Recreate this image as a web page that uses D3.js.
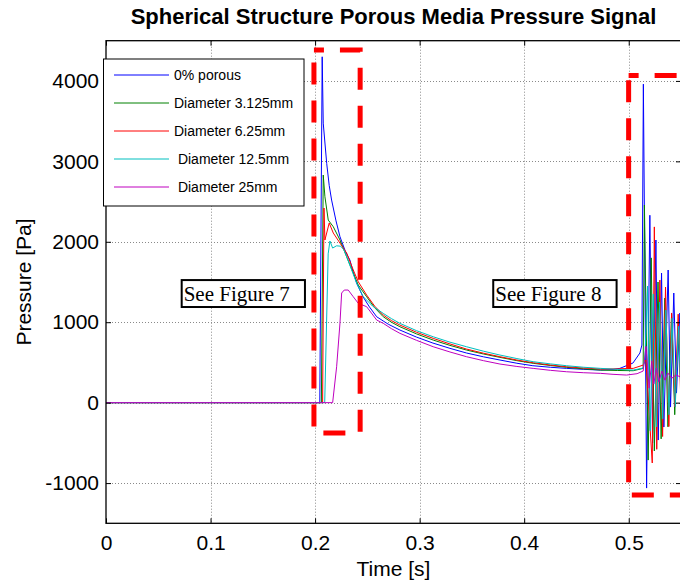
<!DOCTYPE html>
<html>
<head>
<meta charset="utf-8">
<script src="https://cdn.jsdelivr.net/npm/d3@7"></script>
<style>
  body { margin: 0; background: #fff; }
  text { font-family: "Liberation Sans", Arial, sans-serif; }
</style>
</head>
<body>
<script>
// pressure signals, [time s, pressure Pa]
const porous0 = [[0,0],[0.2045,0],[0.2068,4300],[0.2078,3475],[0.2111,2975],[0.2135,2700],[0.2158,2519],[0.2200,2260],[0.2238,2063],[0.2290,1880],[0.2333,1773],[0.2365,1620],[0.2397,1487],[0.2458,1317],[0.2520,1190],[0.2589,1068],[0.2700,975],[0.2811,903],[0.2970,815],[0.3127,741],[0.3290,675],[0.3449,617],[0.3610,570],[0.3768,530],[0.3930,490],[0.4083,459],[0.4250,440],[0.4406,426],[0.4570,414],[0.4732,405],[0.4850,412],[0.4915,426],[0.5040,492],[0.5107,617],[0.5126,716],[0.5140,3960],[0.5171,-1062],[0.5202,2330],[0.5228,-502],[0.5260,2022],[0.5282,-465],[0.5314,1611],[0.5336,-303],[0.5377,1649],[0.5400,-55],[0.5431,1363],[0.5457,119],[0.5489,1114],[0.5500,900]]
const dia3125 = [[0,0],[0.2060,0],[0.2078,2830],[0.2094,2560],[0.2126,2270],[0.2174,2187],[0.2238,2022],[0.2302,1814],[0.2365,1611],[0.2413,1462],[0.2493,1317],[0.2570,1180],[0.2652,1068],[0.2730,1000],[0.2811,944],[0.2970,855],[0.3130,778],[0.3290,712],[0.3449,654],[0.3610,605],[0.3768,563],[0.3930,522],[0.4086,489],[0.4250,462],[0.4406,439],[0.4570,420],[0.4732,405],[0.4890,400],[0.5043,397],[0.5138,426],[0.5150,2457],[0.5186,-714],[0.5215,1800],[0.5245,-600],[0.5280,1500],[0.5310,-450],[0.5345,1300],[0.5375,-300],[0.5410,1100],[0.5440,-150],[0.5475,1000],[0.5500,100]]
const dia625 = [[0,0],[0.2072,0],[0.2085,2420],[0.2094,2022],[0.2135,2233],[0.2174,2109],[0.2238,1984],[0.2302,1860],[0.2365,1649],[0.2413,1503],[0.2493,1338],[0.2570,1200],[0.2652,1089],[0.2730,1020],[0.2811,965],[0.2970,875],[0.3130,799],[0.3290,730],[0.3449,666],[0.3610,615],[0.3768,571],[0.3930,530],[0.4086,496],[0.4250,468],[0.4406,446],[0.4570,430],[0.4732,418],[0.4890,420],[0.5043,426],[0.5138,467],[0.5164,530],[0.5225,-750],[0.5245,2185],[0.5268,-580],[0.5298,1524],[0.5324,-421],[0.5352,1437],[0.5384,-297],[0.5410,1115],[0.5441,-50],[0.5473,1100],[0.5500,-50]]
const dia125 = [[0,0],[0.2092,0],[0.2125,1850],[0.2142,2010],[0.2168,1922],[0.2205,1950],[0.2245,1945],[0.2275,1900],[0.2302,1814],[0.2350,1649],[0.2397,1487],[0.2461,1317],[0.2550,1200],[0.2652,1110],[0.2730,1045],[0.2811,986],[0.2970,895],[0.3130,819],[0.3290,752],[0.3449,695],[0.3610,640],[0.3768,592],[0.3930,548],[0.4086,509],[0.4250,482],[0.4406,459],[0.4570,440],[0.4732,426],[0.4890,414],[0.5043,405],[0.5138,430],[0.5155,550],[0.5180,1450],[0.5205,-350],[0.5235,1350],[0.5265,-300],[0.5295,1250],[0.5325,-200],[0.5355,1150],[0.5385,-150],[0.5415,1050],[0.5445,-50],[0.5475,950],[0.5500,100]]
const dia25 = [[0,0],[0.2168,0],[0.2206,446],[0.2238,990],[0.2254,1363],[0.2279,1400],[0.2317,1400],[0.2365,1317],[0.2413,1235],[0.2493,1193],[0.2589,1027],[0.2652,986],[0.2730,920],[0.2811,862],[0.2970,775],[0.3130,695],[0.3290,630],[0.3449,571],[0.3610,522],[0.3768,480],[0.3930,450],[0.4086,426],[0.4250,402],[0.4406,384],[0.4570,372],[0.4732,364],[0.4850,352],[0.4979,343],[0.5080,360],[0.5138,393],[0.5165,700],[0.5195,180],[0.5220,520],[0.5240,231],[0.5264,430],[0.5288,256],[0.5317,393],[0.5346,280],[0.5374,368],[0.5413,305],[0.5451,343],[0.5500,318]]

const seriesData = [porous0, dia3125, dia625, dia125, dia25]
const seriesNames = ['0% porous', 'Diameter 3.125mm', 'Diameter 6.25mm', ' Diameter 12.5mm', ' Diameter 25mm']
const seriesColors = ['#0000ff', '#008000', '#ff0000', '#00bfbf', '#bf00bf']

const xTicks = [0, 0.1, 0.2, 0.3, 0.4, 0.5]
const yTicks = [-1000, 0, 1000, 2000, 3000, 4000]

// annotations in data units: [t0, t1, p0, p1]
const zoomBoxes = [[0.1989, 0.2431, -378, 4384], [0.4999, 0.5600, -1149, 4067]]
const noteLabels = ['See Figure 7', 'See Figure 8']
const noteBoxes = [[0.0724, 0.1903, 1189, 1524], [0.3704, 0.4884, 1189, 1524]]

const width = 680
const height = 581
const margin = {top: 40.7, bottom: 57.7, left: 106, right: -1}

const svg = d3.select('body').append('svg')
  .attr('width', width)
  .attr('height', height)

const xScale = d3.scaleLinear()
  .domain([0, 0.55])
  .range([margin.left, width - margin.right])

const yScale = d3.scaleLinear()
  .domain([-1500, 4500])
  .range([height - margin.bottom, margin.top])

const x0 = xScale.range()[0], x1 = xScale.range()[1]
const y0 = yScale.range()[1], y1 = yScale.range()[0]

// grid
const grid = svg.append('g')
  .attr('stroke', '#8a8a8a')
  .attr('stroke-width', 1)
  .attr('stroke-dasharray', '1,2')
grid.selectAll('.gx')
  .data(xTicks.slice(1))
  .join('line')
  .attr('x1', d => Math.round(xScale(d)) + 0.5)
  .attr('x2', d => Math.round(xScale(d)) + 0.5)
  .attr('y1', y0)
  .attr('y2', y1)
grid.selectAll('.gy')
  .data(yTicks)
  .join('line')
  .attr('x1', x0)
  .attr('x2', x1)
  .attr('y1', d => Math.round(yScale(d)) + 0.5)
  .attr('y2', d => Math.round(yScale(d)) + 0.5)

svg.append('clipPath').attr('id', 'plot')
  .append('rect')
  .attr('x', x0).attr('y', y0)
  .attr('width', x1 - x0).attr('height', y1 - y0)

const line = d3.line()
  .x(d => xScale(d[0]))
  .y(d => yScale(d[1]))

svg.append('g')
  .attr('clip-path', 'url(#plot)')
  .selectAll('path')
  .data(seriesData)
  .join('path')
  .attr('d', line)
  .attr('fill', 'none')
  .attr('stroke', (d, i) => seriesColors[i])
  .attr('stroke-width', 1)

// axes, ticks pointing inside like matlab
const xAxis = d3.axisBottom(xScale).tickValues(xTicks).tickFormat(d => String(d)).tickSizeInner(-5).tickSizeOuter(0).tickPadding(12)
const yAxis = d3.axisLeft(yScale).tickValues(yTicks).tickFormat(d => String(d)).tickSizeInner(-5).tickSizeOuter(0).tickPadding(7)

const xAxisGroup = svg.append('g')
  .attr('transform', `translate(0,${y1})`)
  .call(xAxis)
const yAxisGroup = svg.append('g')
  .attr('transform', `translate(${x0},0)`)
  .call(yAxis)

svg.append('g')
  .attr('transform', `translate(0,${y0})`)
  .call(d3.axisTop(xScale).tickValues(xTicks).tickFormat('').tickSizeInner(-5).tickSizeOuter(0))
svg.append('g')
  .attr('transform', `translate(${x1},0)`)
  .call(d3.axisRight(yScale).tickValues(yTicks).tickFormat('').tickSizeInner(-5).tickSizeOuter(0))

svg.selectAll('.domain').remove()
svg.selectAll('.tick line').attr('stroke', '#000')
svg.selectAll('.tick text')
  .attr('font-size', 21)
  .attr('fill', '#000')

svg.append('rect')
  .attr('x', x0).attr('y', y0)
  .attr('width', x1 - x0).attr('height', y1 - y0)
  .attr('fill', 'none')
  .attr('stroke', '#000')
  .attr('stroke-width', 1.3)

// red dashed zoom boxes
svg.append('g')
  .selectAll('rect')
  .data(zoomBoxes)
  .join('rect')
  .attr('x', d => xScale(d[0]))
  .attr('y', d => yScale(d[3]))
  .attr('width', d => xScale(d[1]) - xScale(d[0]))
  .attr('height', d => yScale(d[2]) - yScale(d[3]))
  .attr('fill', 'none')
  .attr('stroke', '#ff0000')
  .attr('stroke-width', 5)
  .attr('stroke-dasharray', '22,16')
  .attr('stroke-dashoffset', 12)

// text notes
const notes = svg.append('g')
  .selectAll('g')
  .data(noteBoxes)
  .join('g')
notes.append('rect')
  .attr('x', d => xScale(d[0]))
  .attr('y', d => yScale(d[3]))
  .attr('width', d => xScale(d[1]) - xScale(d[0]))
  .attr('height', d => yScale(d[2]) - yScale(d[3]))
  .attr('fill', '#fff')
  .attr('stroke', '#000')
  .attr('stroke-width', 2)
notes.append('text')
  .attr('x', d => xScale(d[0]) + 2)
  .attr('y', d => yScale(d[2]) - 6)
  .style('font-family', '"Liberation Serif", "Times New Roman", serif')
  .attr('font-size', 21)
  .text((d, i) => noteLabels[i])

// legend
const legend = svg.append('g')
legend.append('rect')
  .attr('x', 103.5).attr('y', 59)
  .attr('width', 200.5).attr('height', 147)
  .attr('fill', '#fff')
  .attr('stroke', '#000')
  .attr('stroke-width', 1)
const entries = legend.selectAll('g')
  .data(seriesNames)
  .join('g')
  .attr('transform', (d, i) => `translate(0,${75 + i * 28})`)
entries.append('line')
  .attr('x1', 114).attr('x2', 169)
  .attr('stroke', (d, i) => seriesColors[i])
entries.append('text')
  .attr('x', 174)
  .attr('dy', '0.35em')
  .attr('font-size', 14)
  .style('white-space', 'pre')
  .text(d => d)

// titles
svg.append('text')
  .attr('x', (x0 + x1) / 2)
  .attr('y', 23.5)
  .attr('text-anchor', 'middle')
  .attr('font-size', 22)
  .attr('font-weight', 'bold')
  .text('Spherical Structure Porous Media Pressure Signal')

svg.append('text')
  .attr('x', (x0 + x1) / 2)
  .attr('y', 576)
  .attr('text-anchor', 'middle')
  .attr('font-size', 21)
  .text('Time [s]')

svg.append('text')
  .attr('transform', `translate(31,${(y0 + y1) / 2}) rotate(-90)`)
  .attr('text-anchor', 'middle')
  .attr('font-size', 21)
  .text('Pressure [Pa]')
</script>
</body>
</html>
